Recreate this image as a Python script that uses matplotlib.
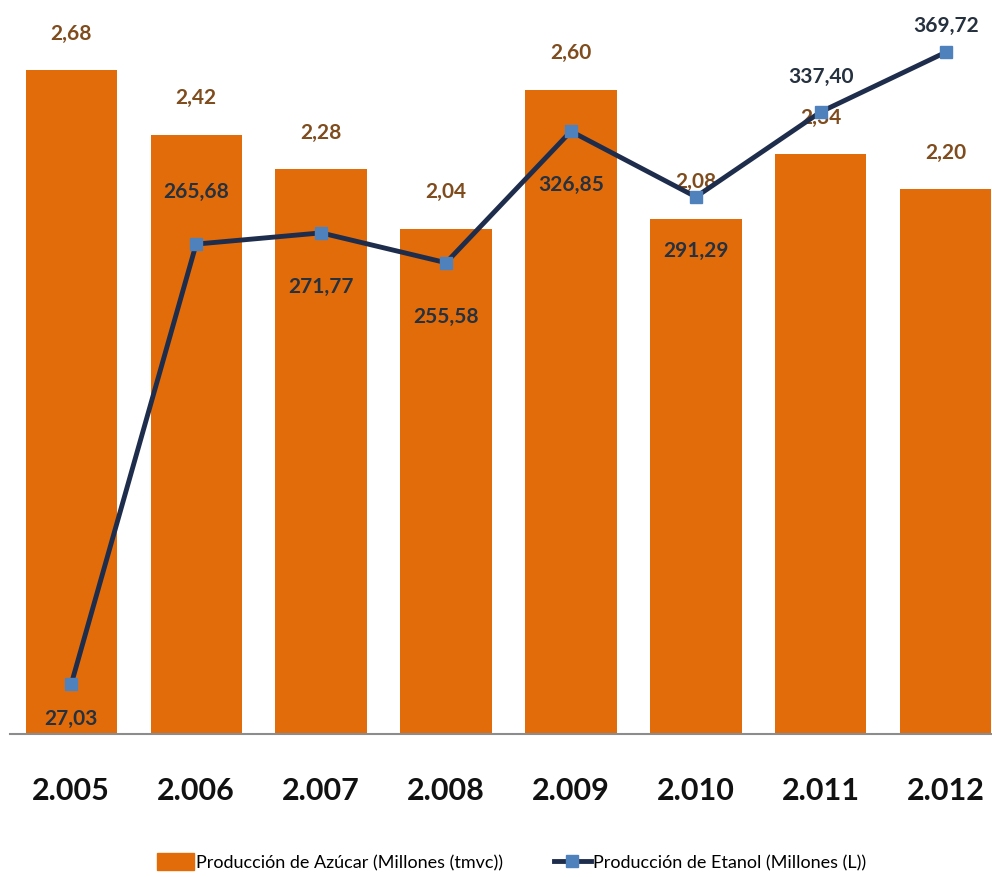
import matplotlib.pyplot as plt
from matplotlib.lines import Line2D
from matplotlib.patches import Patch

years = ["2.005", "2.006", "2.007", "2.008", "2.009", "2.010", "2.011", "2.012"]
azucar = [2.68, 2.42, 2.28, 2.04, 2.60, 2.08, 2.34, 2.20]
etanol = [27.03, 265.68, 271.77, 255.58, 326.85, 291.29, 337.40, 369.72]
# where each ethanol label goes: +1 above the marker, -1 below
etanol_pos = [-1, 1, -1, -1, -1, -1, 1, 1]

BAR = "#E36C0A"
LINE = "#1F2D4D"
MARK = "#4F81BD"

plt.rcParams['font.family'] = ["Lato", "DejaVu Sans"]

fig = plt.figure(figsize=(9.92, 8.78), dpi=100)
ax = fig.add_axes([10 / 992, 143 / 878, 982 / 992, 735 / 878])
x = list(range(len(years)))

ax.bar(x, azucar, width=0.73, color=BAR, zorder=1)
ax.set_xlim(-0.49, 7.37)
ax.set_ylim(0, 2.967)
for xi, v in zip(x, azucar):
    ax.annotate(f"{v:.2f}".replace(".", ","), (xi, v), xytext=(0, 27),
                textcoords="offset points", ha="center", va="center",
                fontsize=15, color="#7F4C1E", fontweight="bold")

ax2 = ax.twinx()
ax2.plot(x, etanol, color=LINE, lw=3.5, marker="s", ms=9,
         mfc=MARK, mec=MARK, zorder=3)
ax2.set_ylim(0, 398.6)
for xi, v, p in zip(x, etanol, etanol_pos):
    off = 38 if p > 0 else -38
    if xi == 7:
        off = 20
    if xi == 6:
        off = 26
    if xi == 0:
        off = -24
    ax2.annotate(f"{v:.2f}".replace(".", ","), (xi, v), xytext=(0, off),
                 textcoords="offset points", ha="center", va="center",
                 fontsize=15, color="#26313F", fontweight="bold")

for a in (ax, ax2):
    for s in a.spines.values():
        s.set_visible(False)
    a.set_yticks([])
ax.spines["bottom"].set_visible(True)
ax.spines["bottom"].set_color("#8C8C8C")
ax.spines["bottom"].set_linewidth(1.5)
ax.set_xticks(x)
ax.set_xticklabels(years, fontsize=22, fontweight="bold", color="#111111")
ax.tick_params(axis="x", length=0, pad=30)

handles = [Patch(color=BAR, label="Producción de Azúcar (Millones (tmvc))"),
           Line2D([0], [0], color=LINE, lw=3.5, marker="s", ms=9, mfc=MARK,
                  mec=MARK, label="Producción de Etanol (Millones (L))")]
fig.legend(handles=handles, loc="center", bbox_to_anchor=(0.5156, 15 / 878),
           ncol=2, frameon=False, fontsize=13, columnspacing=2.8,
           handlelength=2.05, handleheight=1.1, handletextpad=0.1)

plt.savefig("out.png", dpi=100)
